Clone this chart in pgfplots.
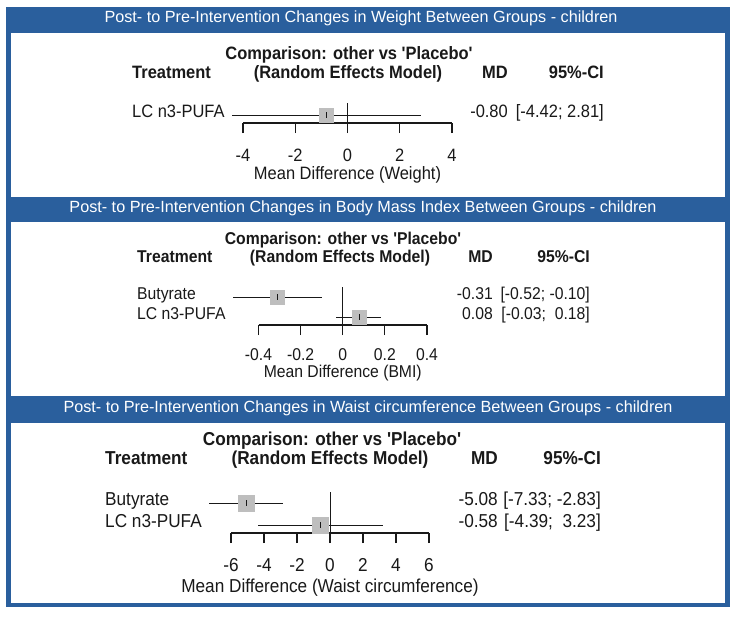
\documentclass[border=0pt]{standalone}
\usepackage{fontspec}
\setmainfont{Liberation Sans}[Ligatures=TeXOff, FakeStretch=0.92]
\newfontfamily\hdr{Liberation Sans}[Ligatures=TeXOff]
\usepackage{pgfplots}
\pgfplotsset{compat=1.18}
\definecolor{fb}{RGB}{42,95,157}
\definecolor{sq}{RGB}{190,190,190}
\definecolor{tx}{RGB}{25,25,25}
\pgfplotsset{forest/.style={
  scale only axis, anchor=south west, clip=false,
  axis x line*=bottom, axis y line=none,
  tick align=outside, major tick length=10bp,
  axis line style={line width=1.1bp, tx},
  every tick/.style={line width=1.1bp, tx},
  xticklabel style={anchor=mid, text=tx},
  xlabel style={at={(axis description cs:0.5,0)}, anchor=mid, text=tx},
}}
\newcommand{\fa}{\fontsize{17.9bp}{20bp}\selectfont}
\newcommand{\fb}{\fontsize{17.1bp}{19bp}\selectfont}
\newcommand{\fc}{\fontsize{18.7bp}{21bp}\selectfont}
\begin{document}
\begin{tikzpicture}
\begin{scope}[x=1bp,y=-1bp]
\path (0,0) rectangle (738,617);
\fill[fb] (6,7) rectangle (730,607);
\fill[white] (11,33) rectangle (725,197);
\fill[white] (11,222) rectangle (725,396);
\fill[white] (11,423) rectangle (725,603);
\node[anchor=mid, text=white, font=\hdr\fontsize{16.2bp}{19bp}\selectfont] at (361,20) {Post- to Pre-Intervention Changes in Weight Between Groups - children};
\node[anchor=mid, text=white, font=\hdr\fontsize{16.2bp}{19bp}\selectfont] at (363,210) {Post- to Pre-Intervention Changes in Body Mass Index Between Groups - children};
\node[anchor=mid, text=white, font=\hdr\fontsize{16.2bp}{19bp}\selectfont] at (368,410) {Post- to Pre-Intervention Changes in Waist circumference Between Groups - children};
% panel 1
\begin{scope}[every node/.style={inner sep=0pt, text=tx, font=\fa}]
\node[anchor=mid, font=\fa\bfseries] at (349,57) {Comparison: other vs 'Placebo'};
\node[anchor=mid west, font=\fa\bfseries] at (132,76) {Treatment};
\node[anchor=mid, font=\fa\bfseries] at (348,76) {(Random Effects Model)};
\node[anchor=mid east, font=\fa\bfseries] at (508,76) {MD};
\node[anchor=mid east, font=\fa\bfseries] at (604,76) {95\%-CI};
\node[anchor=mid west] at (132,115) {LC n3-PUFA};
\node[anchor=mid east] at (508,115) {-0.80};
\node[anchor=mid east] at (604,115) {[-4.42; 2.81]};
\end{scope}
% panel 2
\begin{scope}[every node/.style={inner sep=0pt, text=tx, font=\fb}]
\node[anchor=mid, font=\fb\bfseries] at (343,242) {Comparison: other vs 'Placebo'};
\node[anchor=mid west, font=\fb\bfseries] at (137,260) {Treatment};
\node[anchor=mid, font=\fb\bfseries] at (340,260) {(Random Effects Model)};
\node[anchor=mid east, font=\fb\bfseries] at (493,260) {MD};
\node[anchor=mid east, font=\fb\bfseries] at (590,260) {95\%-CI};
\node[anchor=mid west] at (137,297) {Butyrate};
\node[anchor=mid west] at (137,317) {LC n3-PUFA};
\node[anchor=mid east] at (493,297) {-0.31};
\node[anchor=mid east] at (493,317) {0.08};
\node[anchor=mid east] at (590,297) {[-0.52; -0.10]};
\node[anchor=mid east] at (590,317) {[-0.03;\ \ 0.18]};
\end{scope}
% panel 3
\begin{scope}[every node/.style={inner sep=0pt, text=tx, font=\fc}]
\node[anchor=mid, font=\fc\bfseries] at (332,443) {Comparison: other vs 'Placebo'};
\node[anchor=mid west, font=\fc\bfseries] at (105,462) {Treatment};
\node[anchor=mid, font=\fc\bfseries] at (330,462) {(Random Effects Model)};
\node[anchor=mid east, font=\fc\bfseries] at (498,462) {MD};
\node[anchor=mid east, font=\fc\bfseries] at (601,462) {95\%-CI};
\node[anchor=mid west] at (105,503) {Butyrate};
\node[anchor=mid west] at (105,525) {LC n3-PUFA};
\node[anchor=mid east] at (498,503) {-5.08};
\node[anchor=mid east] at (498,525) {-0.58};
\node[anchor=mid east] at (601,503) {[-7.33; -2.83]};
\node[anchor=mid east] at (601,525) {[-4.39;\ \ 3.23]};
\end{scope}
\end{scope}

% ---- axis 1: Weight
\begin{axis}[forest, at={(243bp,-123bp)}, width=209bp, height=20bp,
  xmin=-4, xmax=4, ymin=0.6, ymax=1.6,
  xtick={-4,-2,0,2,4}, xticklabels={-4,-2,0,2,4},
  xticklabel style={font=\fa, yshift=-26bp},
  xlabel={Mean Difference (Weight)}, xlabel style={font=\fa, yshift=-54bp}]
\addplot[only marks, mark=square*, mark size=7bp, color=sq] coordinates {(-0.80,1)};
\addplot[only marks, mark=|, mark size=3bp, tx, line width=0.8bp,
  error bars/.cd, x dir=both, x explicit, error mark=none,
  error bar style={line width=0.9bp, tx}]
  coordinates {(-0.80,1) += (3.61,0) -= (3.62,0)};
\addplot[no marks, line width=1bp, tx] coordinates {(0,0.6) (0,1.6)};
\end{axis}

% ---- axis 2: BMI
\begin{axis}[forest, at={(258.5bp,-325bp)}, width=168.5bp, height=38bp,
  xmin=-0.4, xmax=0.4, ymin=0.6, ymax=2.5,
  xtick={-0.4,-0.2,0,0.2,0.4}, xticklabels={-0.4,-0.2,0,0.2,0.4},
  xticklabel style={font=\fb, yshift=-23bp},
  xlabel={Mean Difference (BMI)}, xlabel style={font=\fb, yshift=-50bp}]
\addplot[only marks, mark=square*, mark size=7bp, color=sq] coordinates {(-0.31,2) (0.08,1)};
\addplot[only marks, mark=|, mark size=3bp, tx, line width=0.8bp,
  error bars/.cd, x dir=both, x explicit, error mark=none,
  error bar style={line width=0.9bp, tx}]
  coordinates {(-0.31,2) += (0.21,0) -= (0.21,0) (0.08,1) += (0.10,0) -= (0.11,0)};
\addplot[no marks, line width=1bp, tx] coordinates {(0,0.6) (0,2.5)};
\end{axis}

% ---- axis 3: Waist circumference
\begin{axis}[forest, at={(231bp,-533bp)}, width=198bp, height=40.9bp,
  xmin=-6, xmax=6, ymin=0.64, ymax=2.5,
  xtick={-6,-4,-2,0,2,4,6}, xticklabels={-6,-4,-2,0,2,4,6},
  xticklabel style={font=\fc, yshift=-26bp},
  xlabel={Mean Difference (Waist circumference)}, xlabel style={font=\fc, yshift=-57bp}]
\addplot[only marks, mark=square*, mark size=8bp, color=sq] coordinates {(-5.08,2) (-0.58,1)};
\addplot[only marks, mark=|, mark size=3bp, tx, line width=0.8bp,
  error bars/.cd, x dir=both, x explicit, error mark=none,
  error bar style={line width=0.9bp, tx}]
  coordinates {(-5.08,2) += (2.25,0) -= (2.25,0) (-0.58,1) += (3.81,0) -= (3.81,0)};
\addplot[no marks, line width=1bp, tx] coordinates {(0,0.64) (0,2.5)};
\end{axis}
\end{tikzpicture}
\end{document}
